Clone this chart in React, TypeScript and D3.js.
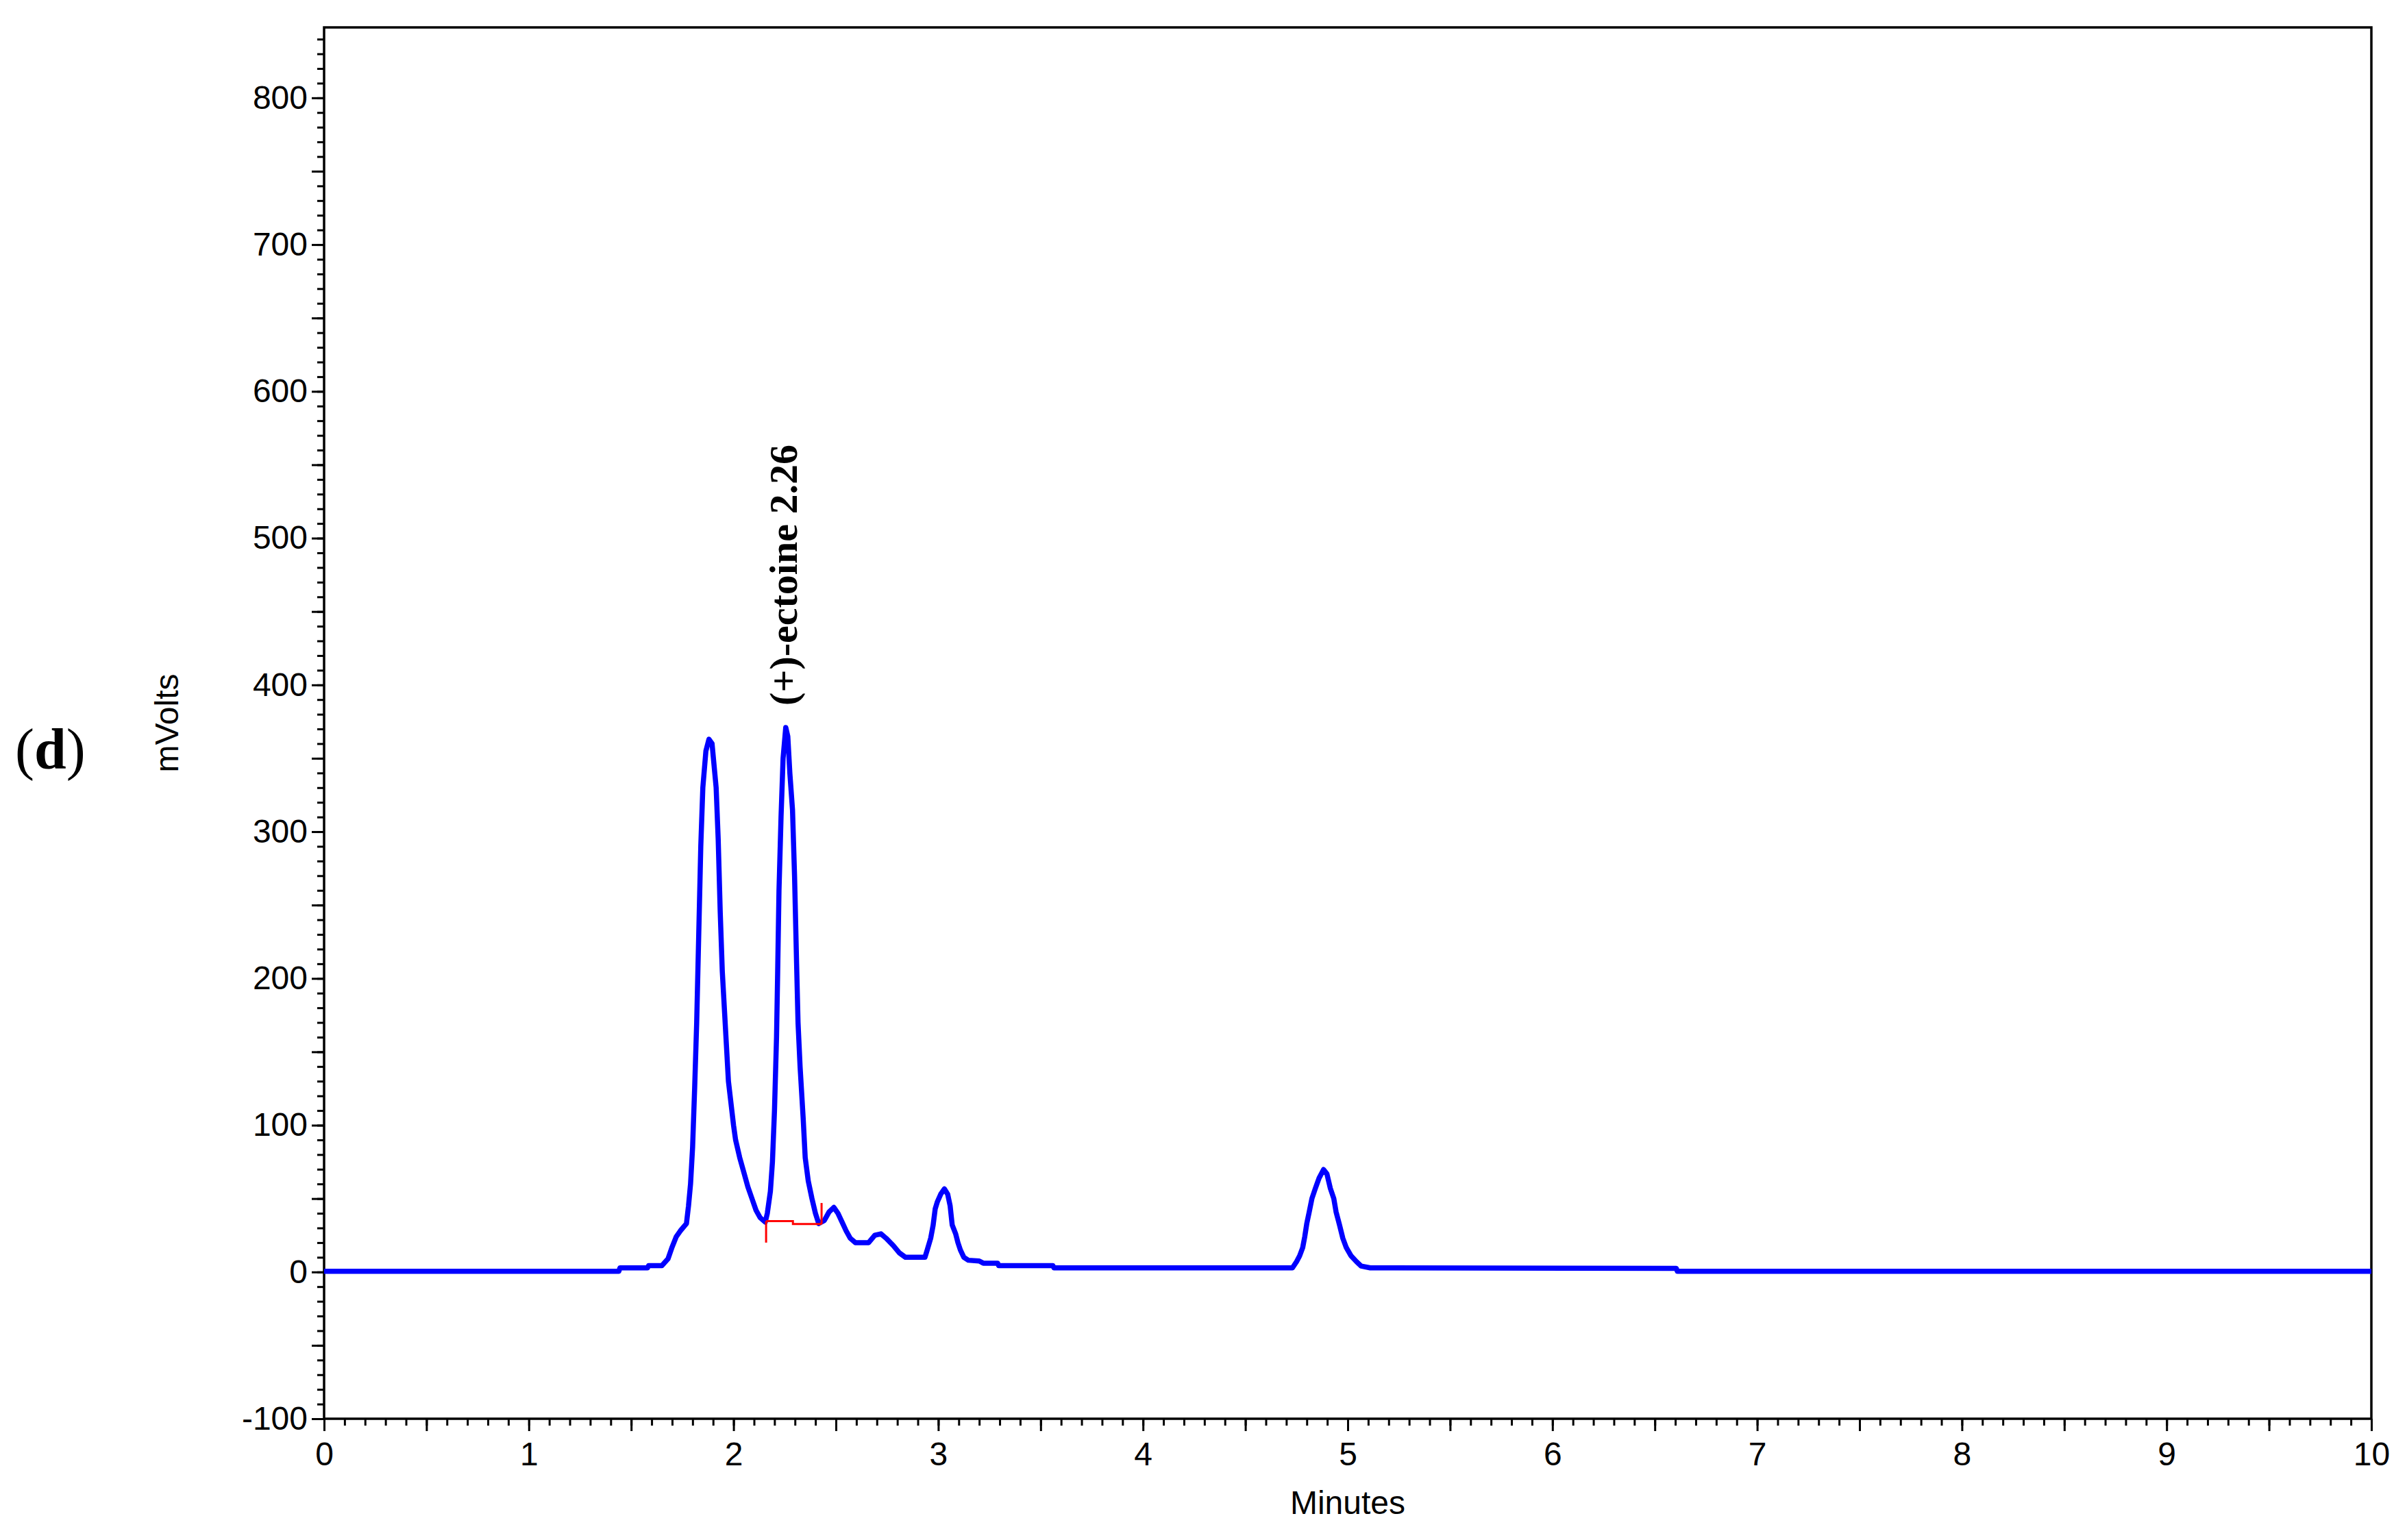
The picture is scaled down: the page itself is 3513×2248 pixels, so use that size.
import React, { useEffect, useRef } from 'react';
import * as d3 from 'd3';

// chromatogram trace (minutes, mVolts)
const retentionTimes = [
  0, 1.44, 1.445, 1.58, 1.585, 1.65, 1.68, 1.70, 1.72, 1.74, 1.77, 1.78, 1.79, 1.80, 1.81,
  1.82, 1.83, 1.84, 1.85, 1.865, 1.88, 1.895, 1.905, 1.915, 1.925, 1.935, 1.945, 1.955,
  1.965, 1.975, 1.99, 2.00, 2.01, 2.03, 2.05, 2.07, 2.09, 2.11, 2.13, 2.155, 2.165, 2.18,
  2.19, 2.20, 2.21, 2.215, 2.222, 2.232, 2.242, 2.255, 2.265, 2.275, 2.288, 2.298, 2.308,
  2.315, 2.325, 2.34, 2.35, 2.365, 2.383, 2.40, 2.416, 2.443, 2.467, 2.49, 2.51, 2.53,
  2.55, 2.57, 2.595, 2.66, 2.69, 2.72, 2.745, 2.78, 2.81, 2.84, 2.935, 2.946, 2.963,
  2.975, 2.985, 2.996, 3.012, 3.03, 3.046, 3.058, 3.068, 3.085, 3.096, 3.108, 3.125,
  3.147, 3.20, 3.22, 3.29, 3.295, 3.56, 3.565, 4.73, 4.75, 4.765, 4.78, 4.79, 4.80,
  4.812, 4.825, 4.842, 4.86, 4.882, 4.898, 4.915, 4.932, 4.943, 4.96, 4.976, 4.993,
  5.016, 5.043, 5.066, 5.11, 6.605, 6.61, 10,
];
const signalMv = [
  0.5, 0.5, 2.8, 2.8, 4.3, 4.3, 9, 17, 24, 28, 33, 45, 60, 85, 125,
  170, 230, 290, 330, 355, 363, 360, 345, 330, 295, 245, 205, 180,
  155, 130, 112, 100, 90, 78, 68, 58, 50, 42, 37, 34, 40, 55,
  75, 110, 160, 200, 260, 310, 350, 371, 365, 340, 315, 270, 210,
  170, 140, 105, 78, 62, 50, 40, 33, 35, 41, 44, 40, 34,
  28, 23, 20, 20, 25, 26, 23, 18, 13, 10, 10, 15, 23,
  32, 43, 48, 53, 56.6, 53, 45, 32, 26, 20, 15, 10,
  8, 7.5, 6, 6, 4.3, 4.3, 2.8, 2.8, 7, 11, 16.6, 24, 33,
  41, 50, 57, 64, 69.8, 67, 57, 50, 41, 32, 23, 16.6,
  11, 7, 4, 2.8, 2.5, 0.5, 0.5,
];

// integration baseline drawn under the labelled peak (a small step in the middle)
const integrationTimes = [2.159, 2.29, 2.29, 2.43];
const integrationMv = [34.7, 34.7, 32.7, 32.7];
const integrationTickTimes = [2.159, 2.43];
const integrationTickLow = [20, 32.5];
const integrationTickHigh = [34.7, 47];

const peakLabelText = '(+)-ectoine 2.26';
const peakLabelTime = 2.256;
const peakLabelMv = 371;

const xTickLabels = [0, 1, 2, 3, 4, 5, 6, 7, 8, 9, 10];
const yTickLabels = [-100, 0, 100, 200, 300, 400, 500, 600, 700, 800];

const width = 3513;
const height = 2248;

function App() {
  const svgRef = useRef<SVGSVGElement>(null);

  useEffect(() => {
    if (!svgRef.current) return;
    const svg = d3.select(svgRef.current);
    svg.selectAll('*').remove();

    const left = 473, right = 3461, top = 40, bottom = 2071;

    const x = d3.scaleLinear().domain([0, 10]).range([left, right]);
    const y = d3.scaleLinear().domain([-100, 848]).range([bottom, top]);

    const axisFont = 'Liberation Sans, Arial, sans-serif';

    // x axis: minor ticks every 0.1, major every 0.5, labels on whole minutes
    const xMinor = d3.range(0, 10.001, 0.1).map(v => +v.toFixed(1));
    const xMajor = d3.range(0, 10.001, 0.5);
    svg.append('g')
      .attr('transform', `translate(0,${bottom})`)
      .call(d3.axisBottom(x).tickValues(xMinor).tickSize(10).tickSizeOuter(0).tickFormat(() => ''))
      .call(g => g.select('.domain').remove());
    const gx = svg.append('g')
      .attr('transform', `translate(0,${bottom})`)
      .call(d3.axisBottom(x).tickValues(xMajor).tickSize(18).tickSizeOuter(0).tickPadding(16)
        .tickFormat(d => (xTickLabels.includes(+d) ? String(d) : '')));
    gx.select('.domain').remove();

    // y axis: minor ticks every 10, major every 50
    const yMinor = d3.range(-100, 841, 10);
    const yMajor = d3.range(-100, 801, 50);
    svg.append('g')
      .attr('transform', `translate(${left},0)`)
      .call(d3.axisLeft(y).tickValues(yMinor).tickSize(10).tickSizeOuter(0).tickFormat(() => ''))
      .call(g => g.select('.domain').remove());
    const gy = svg.append('g')
      .attr('transform', `translate(${left},0)`)
      .call(d3.axisLeft(y).tickValues(yMajor).tickSize(18).tickSizeOuter(0).tickPadding(6)
        .tickFormat(d => (yTickLabels.includes(+d) ? String(d) : '')));
    gy.select('.domain').remove();

    svg.selectAll('.tick line').attr('stroke', '#000').attr('stroke-width', 3);
    svg.selectAll('.tick text')
      .attr('fill', '#000')
      .style('font-family', axisFont)
      .style('font-size', '48px');

    // plot frame
    svg.append('rect')
      .attr('x', left)
      .attr('y', top)
      .attr('width', right - left)
      .attr('height', bottom - top)
      .attr('fill', 'none')
      .attr('stroke', '#000')
      .attr('stroke-width', 3.5);

    // trace
    const line = d3.line<number>()
      .x((_, i) => x(retentionTimes[i]))
      .y(d => y(d));
    svg.append('path')
      .datum(signalMv)
      .attr('d', line)
      .attr('fill', 'none')
      .attr('stroke', '#0000ff')
      .attr('stroke-width', 7.5)
      .attr('stroke-linejoin', 'round');

    // integration baseline (red)
    const red = svg.append('g').attr('stroke', '#ff0000').attr('stroke-width', 3).attr('fill', 'none');
    const baseLine = d3.line<number>()
      .x((_, i) => x(integrationTimes[i]))
      .y(d => y(d));
    red.append('path').datum(integrationMv).attr('d', baseLine);
    integrationTickTimes.forEach((t, i) => {
      red.append('line')
        .attr('x1', x(t)).attr('x2', x(t))
        .attr('y1', y(integrationTickLow[i])).attr('y2', y(integrationTickHigh[i]));
    });

    // peak label
    const lx = x(peakLabelTime) + 16;
    const ly = y(peakLabelMv) - 32;
    svg.append('text')
      .attr('transform', `translate(${lx},${ly}) rotate(-90)`)
      .style('font-family', 'Liberation Serif, Times New Roman, serif')
      .style('font-weight', 'bold')
      .style('font-size', '58px')
      .attr('fill', '#000')
      .text(peakLabelText);

    // axis titles
    svg.append('text')
      .attr('transform', `translate(260,${(top + bottom) / 2}) rotate(-90)`)
      .attr('text-anchor', 'middle')
      .style('font-family', axisFont)
      .style('font-size', '48px')
      .attr('fill', '#000')
      .text('mVolts');

    svg.append('text')
      .attr('x', (left + right) / 2)
      .attr('y', 2210)
      .attr('text-anchor', 'middle')
      .style('font-family', axisFont)
      .style('font-size', '48px')
      .attr('fill', '#000')
      .text('Minutes');

    // panel letter
    const panel = svg.append('text')
      .attr('x', 22)
      .attr('y', 1122)
      .style('font-family', 'Liberation Serif, Times New Roman, serif')
      .style('font-size', '84px')
      .attr('fill', '#000');
    panel.append('tspan').text('(');
    panel.append('tspan').style('font-weight', 'bold').text('d');
    panel.append('tspan').text(')');
  }, []);

  return (
    <svg
      ref={svgRef}
      width={width}
      height={height}
      style={{ position: 'absolute', left: 0, top: 0, background: '#fff' }}
    />
  );
}

export default App;
